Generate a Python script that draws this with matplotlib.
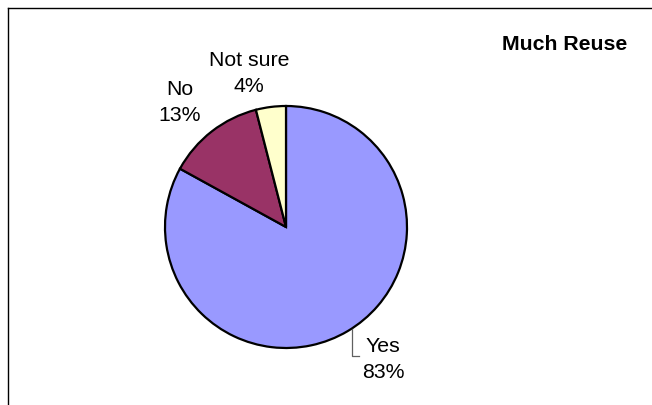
import matplotlib
matplotlib.use("Agg")
import matplotlib.pyplot as plt

plt.rcParams['font.family'] = ['Liberation Sans', 'DejaVu Sans']

# survey answers
answers = ['Yes', 'No', 'Not sure']
shares = [83, 13, 4]
colors = ['#9999FF', '#993366', '#FFFFCC']
title = 'Much Reuse'

# label centres in pixel units (origin bottom left)
label_pos = [(383, 46.5), (180, 303.5), (249, 332.5)]

W, H = 652, 406
fig = plt.figure(figsize=(W / 100, H / 100), dpi=100)
ax = fig.add_axes([0, 0, 1, 1])

ax.pie(shares, colors=colors, startangle=90, counterclock=False,
       center=(286, 178), radius=121,
       wedgeprops=dict(edgecolor='black', linewidth=1.6))

# pie() sets its own limits, so put the pixel frame back afterwards
ax.set_xlim(0, W)
ax.set_ylim(0, H)
ax.set_aspect('equal')
ax.axis('off')

# frame: top and left edges only
ax.plot([8, W], [397, 397], color='black', lw=1.0)
ax.plot([8, 8], [0, 397], color='black', lw=1.0)

for name, val, (x, y) in zip(answers, shares, label_pos):
    ax.text(x, y, f'{name}\n{val}%', ha='center', va='center',
            fontsize=15.3, linespacing=1.5)

# leader line for the Yes label
ax.plot([352, 352, 359], [76, 49, 49], color='#606060', lw=0.9)

ax.text(565, 362, title, ha='center', va='center', fontsize=15.3,
        fontweight='bold')

fig.savefig('out.png', dpi=100)
